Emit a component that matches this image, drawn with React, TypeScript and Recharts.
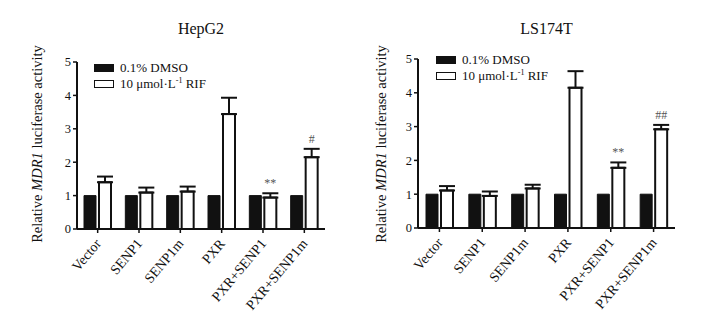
import { BarChart, Bar, XAxis, YAxis, ErrorBar, LabelList } from "recharts";

const categories = ["Vector", "SENP1", "SENP1m", "PXR", "PXR+SENP1", "PXR+SENP1m"];
const yTicks = [0, 1, 2, 3, 4, 5];

const hepDmso = [1, 1, 1, 1, 1, 1];
const hepRif = [1.4, 1.09, 1.12, 3.44, 0.94, 2.15];
const hepRifErr = [0.17, 0.15, 0.15, 0.49, 0.13, 0.25];
const hepMarks = ["", "", "", "", "**", "#"];

const lsDmso = [1, 1, 1, 1, 1, 1];
const lsRif = [1.11, 0.95, 1.17, 4.15, 1.78, 2.92];
const lsRifErr = [0.13, 0.13, 0.11, 0.49, 0.16, 0.13];
const lsMarks = ["", "", "", "", "**", "##"];

const FONT = "'Liberation Serif', 'Times New Roman', serif";

function buildRows(dmso: number[], rif: number[], err: number[], marks: string[]) {
  return categories.map((name, i) => ({
    name,
    dmso: dmso[i],
    rif: rif[i],
    rifErr: [0, err[i]],
    err: err[i],
    mark: marks[i],
  }));
}

function CatTick({ x, y, payload }: any) {
  return (
    <text
      x={x + 4}
      y={y + 9}
      textAnchor="end"
      transform={`rotate(-50, ${x + 4}, ${y + 9})`}
      style={{ fontSize: 14, fontFamily: FONT, fill: "#111" }}
    >
      {payload.value}
    </text>
  );
}

function YLabel({ cx, cy }: { cx: number; cy: number }) {
  return (
    <text
      x={cx}
      y={cy}
      textAnchor="middle"
      transform={`rotate(-90, ${cx}, ${cy})`}
      style={{ fontSize: 14.5, fontFamily: FONT, fill: "#111" }}
    >
      Relative <tspan fontStyle="italic">MDR1</tspan> luciferase activity
    </text>
  );
}

function LegendBox({ left, top }: { left: number; top: number }) {
  const item = (fill: string, label: any) => (
    <div style={{ display: "flex", alignItems: "center", height: 16 }}>
      <span
        style={{
          width: 18,
          height: 6,
          background: fill,
          border: "1.5px solid #111",
          marginRight: 6,
          display: "inline-block",
        }}
      />
      <span style={{ fontSize: 13, fontFamily: FONT, color: "#111" }}>{label}</span>
    </div>
  );
  return (
    <div style={{ position: "absolute", left, top, zIndex: 2 }}>
      {item("#111", "0.1% DMSO")}
      {item("#fff", (
        <>
          10 μmol·L<sup style={{ fontSize: 8 }}>-1</sup> RIF
        </>
      ))}
    </div>
  );
}

function Panel({
  left,
  title,
  rows,
  margin,
  labelX,
  legendPos,
}: {
  left: number;
  title: string;
  rows: any[];
  margin: { top: number; right: number; bottom: number; left: number };
  labelX: number;
  legendPos: { left: number; top: number };
}) {
  const mark = (props: any) => {
    const { x, y, width, height, index } = props;
    const r = rows[index];
    if (!r.mark) return null;
    const pxPerUnit = height / r.rif;
    const top = y - r.err * pxPerUnit;
    return (
      <text
        x={x + width / 2}
        y={top - 6}
        textAnchor="middle"
        style={{ fontSize: 12, fontFamily: FONT, fill: "#555" }}
      >
        {r.mark}
      </text>
    );
  };

  return (
    <div style={{ position: "absolute", left, top: 0, width: 360, height: 315 }}>
      <div
        style={{
          position: "absolute",
          top: 20,
          left: margin.left + 45,
          width: 360 - margin.left - 45 - margin.right,
          textAlign: "center",
          fontFamily: FONT,
          fontSize: 16,
          color: "#111",
        }}
      >
        {title}
      </div>
      <LegendBox left={legendPos.left} top={legendPos.top} />
      <BarChart width={360} height={315} data={rows} margin={margin} barSize={12} barGap={3}>
        <XAxis
          dataKey="name"
          interval={0}
          height={80}
          tick={<CatTick />}
          axisLine={{ stroke: "#111", strokeWidth: 2 }}
          tickLine={{ stroke: "#111", strokeWidth: 1.5 }}
          tickSize={4}
        />
        <YAxis
          width={45}
          domain={[0, 5]}
          ticks={yTicks}
          interval={0}
          axisLine={{ stroke: "#111", strokeWidth: 2 }}
          tickLine={{ stroke: "#111", strokeWidth: 1.5 }}
          tickSize={4}
          tick={{ fontSize: 12.5, fontFamily: FONT, fill: "#111" }}
          label={<YLabel cx={labelX} cy={144} />}
        />
        <Bar dataKey="dmso" fill="#111" stroke="#111" strokeWidth={1} isAnimationActive={false} />
        <Bar dataKey="rif" fill="#fff" stroke="#111" strokeWidth={2} isAnimationActive={false}>
          <ErrorBar dataKey="rifErr" width={8} stroke="#111" strokeWidth={2} direction="y" />
          <LabelList dataKey="mark" content={mark} />
        </Bar>
      </BarChart>
    </div>
  );
}

export default function App() {
  return (
    <div style={{ position: "absolute", left: 0, top: 0, width: 721, height: 315, background: "#fff" }}>
      <Panel
        left={0}
        title="HepG2"
        rows={buildRows(hepDmso, hepRif, hepRifErr, hepMarks)}
        margin={{ top: 62, right: 35, bottom: 6, left: 32 }}
        labelX={42}
        legendPos={{ left: 94, top: 60 }}
      />
      <Panel
        left={360}
        title="LS174T"
        rows={buildRows(lsDmso, lsRif, lsRifErr, lsMarks)}
        margin={{ top: 59, right: 45, bottom: 7, left: 13 }}
        labelX={26}
        legendPos={{ left: 76, top: 52 }}
      />
    </div>
  );
}
